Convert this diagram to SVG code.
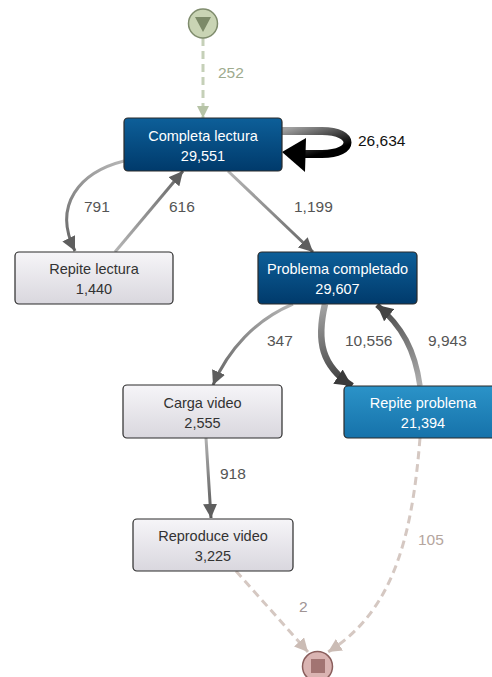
<svg xmlns="http://www.w3.org/2000/svg" width="492" height="677" viewBox="0 0 492 677">
<style>
.nt{font-family:"Liberation Sans",Arial,sans-serif;font-size:14.5px;text-anchor:middle}
.w{fill:#ffffff}
.d{fill:#333333}
.lb{font-family:"Liberation Sans",Arial,sans-serif;font-size:15.5px;fill:#555555}
.box{stroke:#2a2a2a;stroke-width:1.2}
.e{fill:none}
</style>
<defs>
<linearGradient id="gDark" x1="0" y1="0" x2="0" y2="1"><stop offset="0" stop-color="#0d5f99"/><stop offset="1" stop-color="#003a6b"/></linearGradient>
<linearGradient id="gLight" x1="0" y1="0" x2="0" y2="1"><stop offset="0" stop-color="#2b93c8"/><stop offset="1" stop-color="#1672aa"/></linearGradient>
<linearGradient id="gGrey" x1="0" y1="0" x2="0" y2="1"><stop offset="0" stop-color="#f6f5f8"/><stop offset="1" stop-color="#d9d7de"/></linearGradient>
<linearGradient id="eLoop" gradientUnits="userSpaceOnUse" x1="290" y1="128" x2="300" y2="160"><stop offset="0" stop-color="#a0a0a0"/><stop offset="1" stop-color="#000000"/></linearGradient>
<linearGradient id="e791" gradientUnits="userSpaceOnUse" x1="124" y1="161" x2="74" y2="250"><stop offset="0" stop-color="#b5b5b5"/><stop offset="1" stop-color="#666666"/></linearGradient>
<linearGradient id="e616" gradientUnits="userSpaceOnUse" x1="115" y1="252" x2="183" y2="172"><stop offset="0" stop-color="#b5b5b5"/><stop offset="1" stop-color="#666666"/></linearGradient>
<linearGradient id="e1199" gradientUnits="userSpaceOnUse" x1="228" y1="171" x2="312" y2="252"><stop offset="0" stop-color="#b5b5b5"/><stop offset="1" stop-color="#666666"/></linearGradient>
<linearGradient id="e347" gradientUnits="userSpaceOnUse" x1="293" y1="304" x2="214" y2="384"><stop offset="0" stop-color="#b5b5b5"/><stop offset="1" stop-color="#666666"/></linearGradient>
<linearGradient id="e10556" gradientUnits="userSpaceOnUse" x1="325" y1="304" x2="350" y2="384"><stop offset="0" stop-color="#a5a5a5"/><stop offset="1" stop-color="#3a3a3a"/></linearGradient>
<linearGradient id="e9943" gradientUnits="userSpaceOnUse" x1="420" y1="386" x2="378" y2="306"><stop offset="0" stop-color="#b0b0b0"/><stop offset="1" stop-color="#444444"/></linearGradient>
<linearGradient id="e918" gradientUnits="userSpaceOnUse" x1="206" y1="438" x2="211" y2="518"><stop offset="0" stop-color="#b0b0b0"/><stop offset="1" stop-color="#555555"/></linearGradient>
<marker id="aGrey" viewBox="0 0 10 10" refX="10" refY="5" markerWidth="4.7" markerHeight="4.7" orient="auto" markerUnits="strokeWidth"><path d="M0,0 L10,5 L0,10 z" fill="#5e5e5e"/></marker>
<marker id="aDark" viewBox="0 0 10 10" refX="10" refY="5" markerWidth="2.6" markerHeight="2.8" orient="auto" markerUnits="strokeWidth"><path d="M0,0 L10,5 L0,10 z" fill="#3a3a3a"/></marker>
<marker id="aDark2" viewBox="0 0 10 10" refX="10" refY="5" markerWidth="2.9" markerHeight="3.1" orient="auto" markerUnits="strokeWidth"><path d="M0,0 L10,5 L0,10 z" fill="#444444"/></marker>
<marker id="aStart" viewBox="0 0 10 10" refX="10" refY="5" markerWidth="4" markerHeight="4" orient="auto" markerUnits="strokeWidth"><path d="M0,0 L10,5 L0,10 z" fill="#b6c3a6"/></marker>
<marker id="aEnd" viewBox="0 0 10 10" refX="10" refY="5" markerWidth="4.5" markerHeight="4.5" orient="auto" markerUnits="strokeWidth"><path d="M0,0 L10,5 L0,10 z" fill="#cbbcb5"/></marker>
</defs>
<rect x="0" y="0" width="492" height="677" fill="#ffffff"/>

<g id="connectors">
<path class="e" d="M203 38 L203 118" stroke="#c5d0b8" stroke-width="3" stroke-dasharray="8 5" marker-end="url(#aStart)"/>
<path class="e" d="M282 131 L322 131 C356 131 356 154 322 154 L304 154" stroke="url(#eLoop)" stroke-width="8"/>
<polygon points="282,152 306,138 305,172" fill="#000000"/>
<path class="e" d="M124 161 C80 172 52 205 75 251" stroke="url(#e791)" stroke-width="3" marker-end="url(#aGrey)"/>
<path class="e" d="M115 252 L183 171" stroke="url(#e616)" stroke-width="3" marker-end="url(#aGrey)"/>
<path class="e" d="M228 171 L313 252" stroke="url(#e1199)" stroke-width="3" marker-end="url(#aGrey)"/>
<path class="e" d="M293 304 C255 320 228 350 213 385" stroke="url(#e347)" stroke-width="3" marker-end="url(#aGrey)"/>
<path class="e" d="M325 304 C316 342 322 366 352 386" stroke="url(#e10556)" stroke-width="6.5" marker-end="url(#aDark)"/>
<path class="e" d="M420 386 C415 350 402 326 377 305" stroke="url(#e9943)" stroke-width="5.5" marker-end="url(#aDark2)"/>
<path class="e" d="M206 438 L211 518" stroke="url(#e918)" stroke-width="3" marker-end="url(#aGrey)"/>
<path class="e" d="M236 571 L308 652" stroke="#d5c8c2" stroke-width="3" stroke-dasharray="8 5" marker-end="url(#aEnd)"/>
<path class="e" d="M420 438 C412 540 392 612 328 652" stroke="#d5c8c2" stroke-width="3" stroke-dasharray="8 5" marker-end="url(#aEnd)"/>
<text class="lb" x="218" y="78" style="fill:#9eab8e">252</text>
<text class="lb" x="358" y="146" style="fill:#111111">26,634</text>
<text class="lb" x="84" y="212">791</text>
<text class="lb" x="169" y="212">616</text>
<text class="lb" x="294" y="212">1,199</text>
<text class="lb" x="267" y="346">347</text>
<text class="lb" x="345" y="346">10,556</text>
<text class="lb" x="428" y="346">9,943</text>
<text class="lb" x="220" y="479">918</text>
<text class="lb" x="418" y="545" style="fill:#b5a69e">105</text>
<text class="lb" x="299" y="612" style="fill:#a09494">2</text>
</g>

<g id="start">
<circle cx="203" cy="23.5" r="14.5" fill="#c9d4b4" stroke="#7f8c6d" stroke-width="1.5"/>
<polygon points="195,17 211,17 203,32" fill="#7c8a68"/>
</g>

<g id="completa-lectura">
<rect class="box" x="124" y="118" width="158" height="53" rx="4" fill="url(#gDark)"/>
<text class="nt w" x="203" y="141">Completa lectura</text>
<text class="nt w" x="203" y="161">29,551</text>
</g>

<g id="repite-lectura">
<rect class="box" x="15" y="252" width="158" height="52" rx="4" fill="url(#gGrey)" stroke="#555555"/>
<text class="nt d" x="94" y="274">Repite lectura</text>
<text class="nt d" x="94" y="294">1,440</text>
</g>

<g id="problema-completado">
<rect class="box" x="258" y="252" width="159" height="52" rx="4" fill="url(#gDark)"/>
<text class="nt w" x="337.5" y="274">Problema completado</text>
<text class="nt w" x="337.5" y="294">29,607</text>
</g>

<g id="repite-problema">
<rect class="box" x="344" y="386" width="158" height="52" rx="4" fill="url(#gLight)"/>
<text class="nt w" x="423" y="408">Repite problema</text>
<text class="nt w" x="423" y="428">21,394</text>
</g>

<g id="carga-video">
<rect class="box" x="123" y="385" width="159" height="53" rx="4" fill="url(#gGrey)" stroke="#555555"/>
<text class="nt d" x="202.5" y="408">Carga video</text>
<text class="nt d" x="202.5" y="428">2,555</text>
</g>

<g id="reproduce-video">
<rect class="box" x="133" y="519" width="160" height="52" rx="4" fill="url(#gGrey)" stroke="#555555"/>
<text class="nt d" x="213" y="541">Reproduce video</text>
<text class="nt d" x="213" y="561">3,225</text>
</g>

<g id="end">
<circle cx="317.5" cy="666.5" r="15" fill="#dab4b2" stroke="#8a5e5c" stroke-width="1.5"/>
<rect x="311" y="659" width="14" height="14" fill="#a27472"/>
</g>
</svg>
